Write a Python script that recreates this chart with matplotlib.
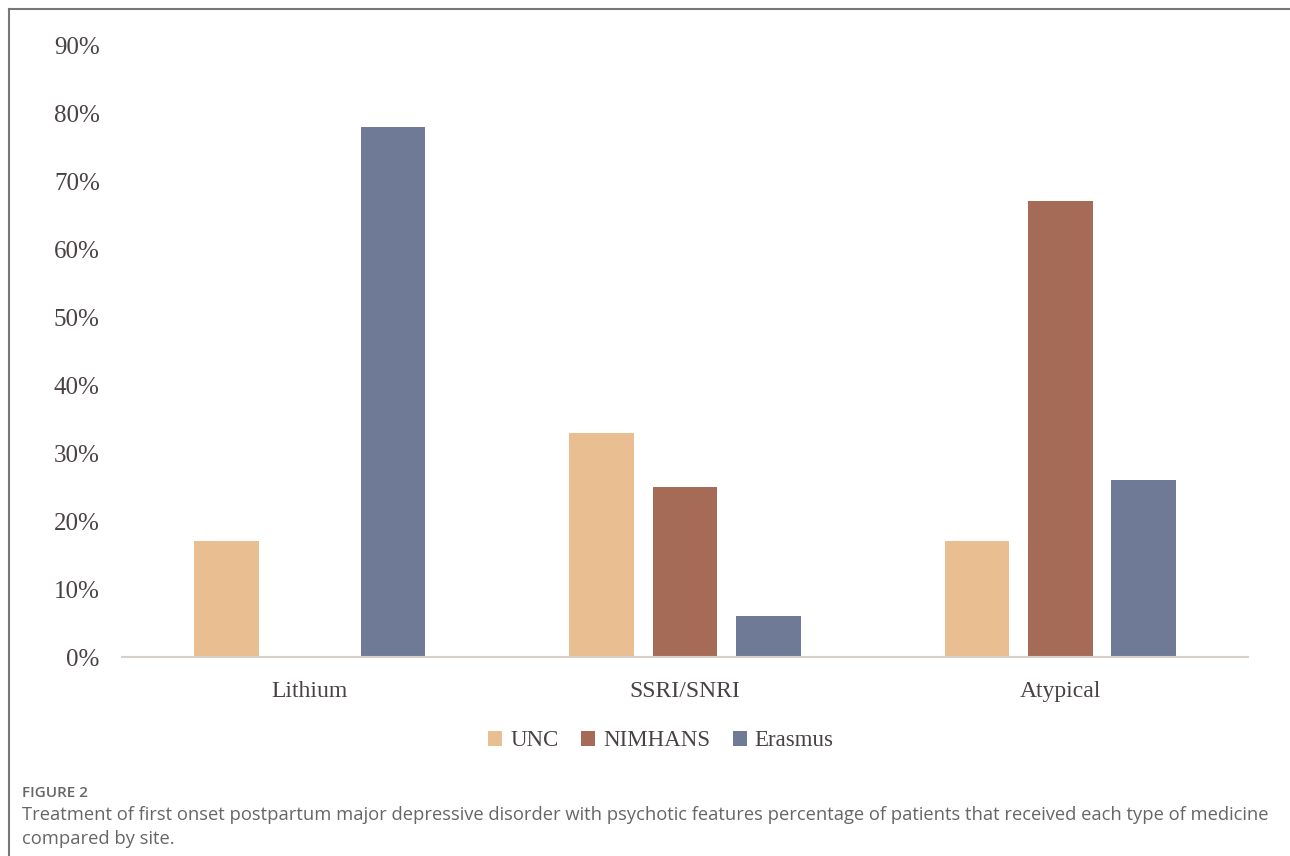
import matplotlib.pyplot as plt
from matplotlib.lines import Line2D
import numpy as np

categories = ['Lithium', 'SSRI/SNRI', 'Atypical']
sites = ['UNC', 'NIMHANS', 'Erasmus']
unc = [0.17, 0.33, 0.17]
nimhans = [0.0, 0.25, 0.67]
erasmus = [0.78, 0.06, 0.26]
yticks = [0, 0.1, 0.2, 0.3, 0.4, 0.5, 0.6, 0.7, 0.8, 0.9]

colors = ['#e9bf91', '#a66b57', '#6f7a96']
text_color = '#4a4242'
serif = ['Liberation Serif', 'DejaVu Serif']
sans = ['Open Sans', 'DejaVu Sans']

fig = plt.figure(figsize=(12.9, 8.56), dpi=100)
ax = fig.add_axes([122/1290, 1 - 657/856, 1126/1290, 612/856])

x = np.arange(len(categories))
width = 0.173
step = 0.222
for i, (vals, name) in enumerate(zip([unc, nimhans, erasmus], sites)):
    ax.bar(x + (i - 1) * step, vals, width, color=colors[i], label=name)

ax.set_xlim(-0.5, 2.5)
ax.set_ylim(0, 0.9)
ax.set_yticks(yticks)
ax.set_yticklabels([f'{int(round(v*100))}%' for v in yticks],
                   family=serif, fontsize=18, color=text_color)
ax.set_xticks(x)
ax.set_xticklabels(categories, family=serif, fontsize=17, color=text_color)
ax.tick_params(axis='y', length=0, pad=16)
ax.tick_params(axis='x', length=0, pad=17)
for s in ['top', 'right', 'left']:
    ax.spines[s].set_visible(False)
ax.spines['bottom'].set_color('#d8cfcb')
ax.spines['bottom'].set_linewidth(1.5)

leg = fig.legend(loc='center', bbox_to_anchor=(661/1290, 1 - 741/856), ncol=3,
                 frameon=False, prop={'family': serif, 'size': 16.5},
                 handlelength=0.6, handleheight=0.6, handletextpad=0.35,
                 columnspacing=1.0)
for t in leg.get_texts():
    t.set_color(text_color)

# outer frame lines (top and left)
fig.add_artist(Line2D([9/1290, 1], [1 - 9/856, 1 - 9/856], color='#777777', lw=1.5))
fig.add_artist(Line2D([9/1290, 9/1290], [0, 1 - 9/856], color='#777777', lw=1.5))

fig.text(22/1290, 1 - 793/856, 'FIGURE 2', family=sans,
         fontsize=11, color='#666666', va='center', fontweight='semibold')
fig.text(22/1290, 1 - 815/856,
         'Treatment of first onset postpartum major depressive disorder with psychotic features percentage of patients that received each type of medicine',
         family=sans, fontsize=13.2, color='#666666', va='center')
fig.text(22/1290, 1 - 839/856, 'compared by site.',
         family=sans, fontsize=13.2, color='#666666', va='center')

fig.savefig('out.png', dpi=100)
